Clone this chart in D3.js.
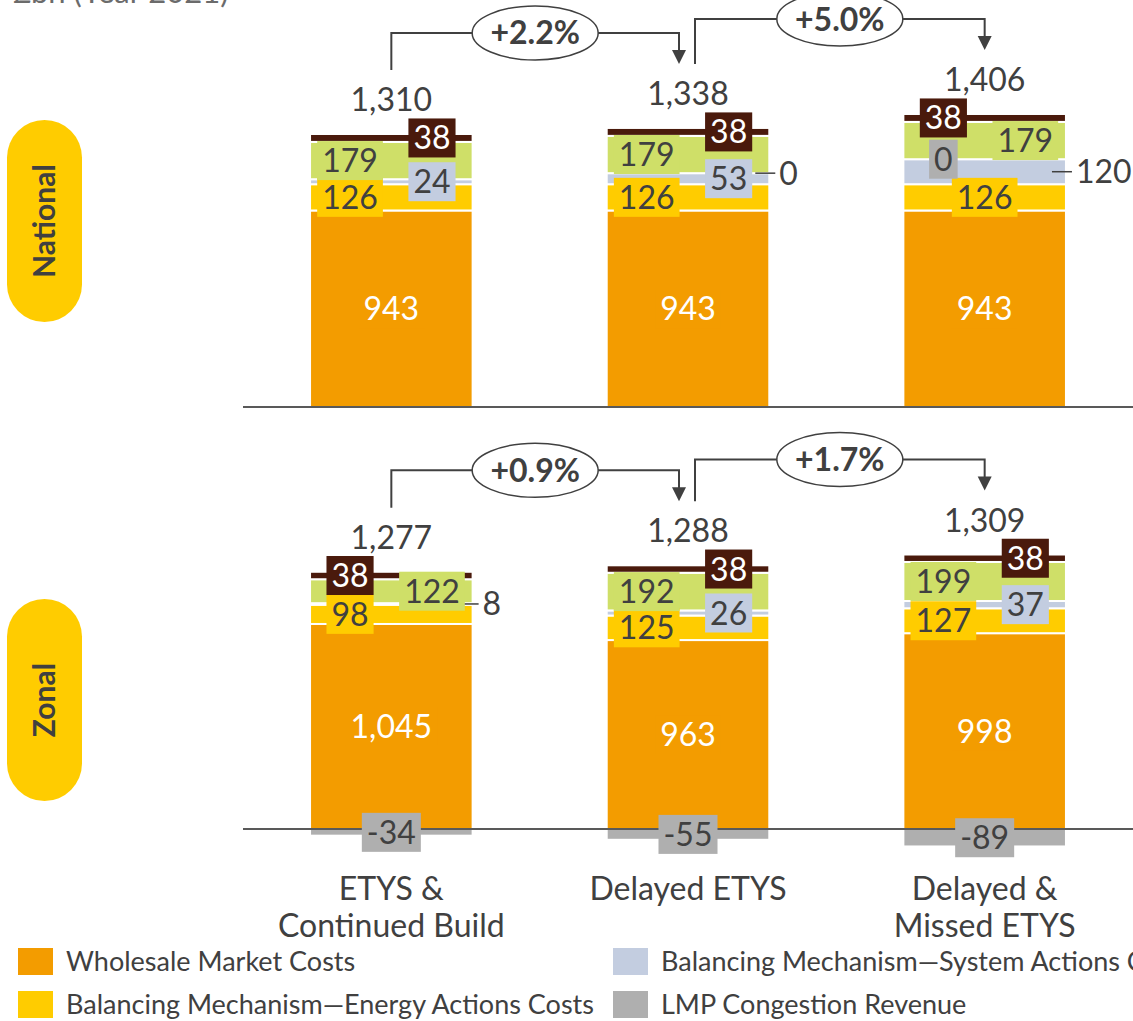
<!DOCTYPE html>
<html>
<head>
<meta charset="utf-8">
<script src="https://cdn.jsdelivr.net/npm/d3@7"></script>
<style>
  body { margin: 0; background: #fff; overflow: hidden; }
  svg { display: block; }
  text { font-family: Lato, "Noto Sans", sans-serif; }
</style>
</head>
<body>
<svg id="chart" width="1133" height="1021"></svg>
<script>
// ---- Data -------------------------------------------------------------
const scenarios = ["ETYS & Continued Build", "Delayed ETYS", "Delayed & Missed ETYS"];
const scenarioLines = [["ETYS &", "Continued Build"], ["Delayed ETYS"], ["Delayed &", "Missed ETYS"]];

// stacking order, bottom to top
const seriesKeys = ["wholesale", "energyActions", "systemActions", "lmpCongestion", "otherCostsA", "otherCostsB"];

const nationalWholesale = [943, 943, 943];
const nationalEnergy    = [126, 126, 126];
const nationalSystem    = [24, 53, 120];
const nationalLmp       = [null, 0, 0];
const nationalOtherA    = [179, 179, 179];
const nationalOtherB    = [38, 38, 38];
const nationalTotals    = [1310, 1338, 1406];
const nationalChanges   = ["+2.2%", "+5.0%"];

const zonalWholesale = [1045, 963, 998];
const zonalEnergy    = [98, 125, 127];
const zonalSystem    = [8, 26, 37];
const zonalLmp       = [-34, -55, -89];
const zonalOtherA    = [122, 192, 199];
const zonalOtherB    = [38, 38, 38];
const zonalTotals    = [1277, 1288, 1309];
const zonalChanges   = ["+0.9%", "+1.7%"];

const legendLabels = [
  "Wholesale Market Costs",
  "Balancing Mechanism\u2014Energy Actions Costs",
  "Balancing Mechanism\u2014System Actions Costs",
  "LMP Congestion Revenue"
];

// ---- Styling ----------------------------------------------------------
const colors = {
  wholesale: "#F39C00",
  energyActions: "#FFCC00",
  systemActions: "#C3CDE0",
  lmpCongestion: "#AFAFAF",
  otherCostsA: "#CFDF68",
  otherCostsB: "#4A1A0C"
};
const textDark = "#404040";
const lineDark = "#595959";
const valueFont = 32;

// Where each segment's value label sits: L(eft) / C(entre) / R(ight) / O(utside with leader)
const placement = {
  national: {
    wholesale: ["C", "C", "C"], energyActions: ["L", "L", "C"], systemActions: ["R", "R", "O"],
    lmpCongestion: [null, "O", "L"], otherCostsA: ["L", "L", "R"], otherCostsB: ["R", "R", "L"]
  },
  zonal: {
    wholesale: ["C", "C", "C"], energyActions: ["L", "L", "L"], systemActions: ["O", "R", "R"],
    lmpCongestion: ["C", "C", "C"], otherCostsA: ["R", "L", "L"], otherCostsB: ["L", "R", "R"]
  }
};
const placeFrac = { L: 0.246, C: 0.5, R: 0.75 };

const panels = [
  {
    id: "national", name: "National", zero: 407, pxPerUnit: 0.2084, pillCenter: 221,
    values: {
      wholesale: nationalWholesale, energyActions: nationalEnergy, systemActions: nationalSystem,
      lmpCongestion: nationalLmp, otherCostsA: nationalOtherA, otherCostsB: nationalOtherB
    },
    totals: nationalTotals, changes: nationalChanges
  },
  {
    id: "zonal", name: "Zonal", zero: 829, pxPerUnit: 0.1962, pillCenter: 700,
    values: {
      wholesale: zonalWholesale, energyActions: zonalEnergy, systemActions: zonalSystem,
      lmpCongestion: zonalLmp, otherCostsA: zonalOtherA, otherCostsB: zonalOtherB
    },
    totals: zonalTotals, changes: zonalChanges
  }
];

// ---- Drawing ----------------------------------------------------------
const svg = d3.select("#chart");

const x = d3.scaleBand()
  .domain(scenarios)
  .range([243, 1133])
  .paddingInner(0.452)
  .paddingOuter(0.226);
const bw = x.bandwidth();
const cx = s => x(s) + bw / 2;

const fmt = d3.format(",");
const fmtVal = v => (v < 0 ? "-" + fmt(-v) : fmt(v));

// unit heading, partly cut by the top edge
svg.append("text")
  .attr("x", 13).attr("y", 3)
  .attr("font-size", 31).attr("fill", "#6b6b6b")
  .text("\u00A3bn (Year 2021)");

panels.forEach(p => {
  const g = svg.append("g").attr("class", "panel-" + p.id);
  const y = d3.scaleLinear().domain([0, 1500]).range([p.zero, p.zero - 1500 * p.pxPerUnit]);

  // diverging stack, kept by hand so zero-valued segments sit at the running top
  const stacked = scenarios.map((s, j) => {
    let pos = 0, neg = 0;
    const segs = [];
    seriesKeys.forEach(k => {
      const v = p.values[k][j];
      if (v == null) return;
      let y0, y1;
      if (v >= 0) { y0 = pos; y1 = pos + v; pos = y1; }
      else { y1 = neg; y0 = neg + v; neg = y0; }
      segs.push({ key: k, value: v, y0, y1, scenario: s, j });
    });
    return { scenario: s, segs, top: pos, j };
  });

  // pill with panel name
  g.append("rect")
    .attr("x", 7).attr("y", p.pillCenter - 101)
    .attr("width", 75).attr("height", 202)
    .attr("rx", 37.5).attr("ry", 37.5)
    .attr("fill", "#FFCC00");
  g.append("text")
    .attr("transform", `translate(44,${p.pillCenter}) rotate(-90)`)
    .attr("text-anchor", "middle").attr("dy", "0.36em")
    .attr("font-family", "'Liberation Sans', Arial, sans-serif")
    .attr("font-weight", "bold").attr("font-size", 30)
    .attr("fill", textDark)
    .text(p.name);

  // bars
  const bars = g.selectAll("g.bar").data(stacked).join("g").attr("class", "bar");
  bars.selectAll("rect")
    .data(d => d.segs.filter(s => s.value !== 0))
    .join("rect")
    .attr("x", d => x(d.scenario))
    .attr("width", bw)
    .attr("y", d => y(Math.max(d.y0, d.y1)))
    .attr("height", d => Math.abs(y(d.y0) - y(d.y1)))
    .attr("fill", d => colors[d.key])
    .attr("stroke", "#fff")
    .attr("stroke-width", 2);

  // baseline
  g.append("line")
    .attr("x1", 243).attr("x2", 1133)
    .attr("y1", y(0)).attr("y2", y(0))
    .attr("stroke", lineDark).attr("stroke-width", 2);

  // segment value labels
  stacked.forEach(bar => {
    bar.segs.forEach(seg => {
      const pos = placement[p.id][seg.key][seg.j];
      if (!pos) return;
      const yc = seg.value === 0 ? y(seg.y1) : (y(seg.y0) + y(seg.y1)) / 2;
      const label = fmtVal(seg.value);
      if (pos === "O") {
        const right = x(bar.scenario) + bw;
        g.append("line")
          .attr("x1", right - 14).attr("x2", right + 6)
          .attr("y1", yc).attr("y2", yc)
          .attr("stroke", textDark).attr("stroke-width", 1.5);
        g.append("text")
          .attr("x", right + 10).attr("y", yc).attr("dy", "0.36em")
          .attr("font-size", valueFont).attr("fill", textDark)
          .text(label);
        return;
      }
      const xc = x(bar.scenario) + bw * placeFrac[pos];
      const lg = g.append("g");
      const box = lg.append("rect").attr("fill", colors[seg.key]);
      const t = lg.append("text")
        .attr("x", xc).attr("y", yc).attr("dy", "0.36em")
        .attr("text-anchor", "middle")
        .attr("font-size", valueFont)
        .attr("fill", seg.key === "otherCostsB" || seg.key === "wholesale" ? "#fff" : textDark)
        .text(label);
      const w = t.node().getComputedTextLength() + 10;
      box.attr("x", xc - w / 2).attr("y", yc - 19.5).attr("width", w).attr("height", 39);
    });

    // total above the stack
    g.append("text")
      .attr("x", cx(bar.scenario)).attr("y", y(bar.top) - 23)
      .attr("text-anchor", "middle")
      .attr("font-size", valueFont).attr("fill", textDark)
      .text(fmt(p.totals[bar.j]));
  });

  // change brackets between neighbouring scenarios
  p.changes.forEach((chg, i) => {
    const from = stacked[i], to = stacked[i + 1];
    const x1 = cx(from.scenario) + (i === 0 ? 0 : 7);
    const x2 = cx(to.scenario) - (i === 0 ? 9 : 0);
    const yStart = y(from.top) - 64;
    const yEnd = y(to.top) - 64;
    const yh = Math.min(yStart, yEnd) - 31;
    g.append("path")
      .attr("d", `M${x1},${yStart}V${yh}H${x2}V${yEnd - 13}`)
      .attr("fill", "none").attr("stroke", textDark).attr("stroke-width", 2);
    g.append("path")
      .attr("d", `M${x2 - 7},${yEnd - 14}L${x2 + 7},${yEnd - 14}L${x2},${yEnd}Z`)
      .attr("fill", textDark);
    const mx = (x1 + x2) / 2;
    g.append("ellipse")
      .attr("cx", mx).attr("cy", yh).attr("rx", 63).attr("ry", 27)
      .attr("fill", "#fff").attr("stroke", textDark).attr("stroke-width", 1.5);
    g.append("text")
      .attr("x", mx).attr("y", yh).attr("dy", "0.36em")
      .attr("text-anchor", "middle")
      .attr("font-size", 32).attr("font-weight", "bold")
      .attr("fill", textDark)
      .text(chg);
  });
});

// category labels
scenarios.forEach((s, i) => {
  const t = svg.append("text")
    .attr("text-anchor", "middle")
    .attr("font-size", 32).attr("fill", textDark);
  scenarioLines[i].forEach((ln, k) => {
    t.append("tspan").attr("x", cx(s)).attr("y", 900 + k * 37).text(ln);
  });
});

// legend
const legendKeys = ["wholesale", "energyActions", "systemActions", "lmpCongestion"];
const legendPos = [[0, 0], [0, 1], [1, 0], [1, 1]];
const legendCols = [18, 613];
const legendRows = [948, 991];
legendKeys.forEach((k, i) => {
  const [c, r] = legendPos[i];
  const lg = svg.append("g").attr("transform", `translate(${legendCols[c]},${legendRows[r]})`);
  lg.append("rect").attr("width", 35).attr("height", 27).attr("fill", colors[k]);
  lg.append("text")
    .attr("x", 48).attr("y", 13.5).attr("dy", "0.36em")
    .attr("font-size", 27).attr("fill", textDark)
    .text(legendLabels[i]);
});
</script>
</body>
</html>
